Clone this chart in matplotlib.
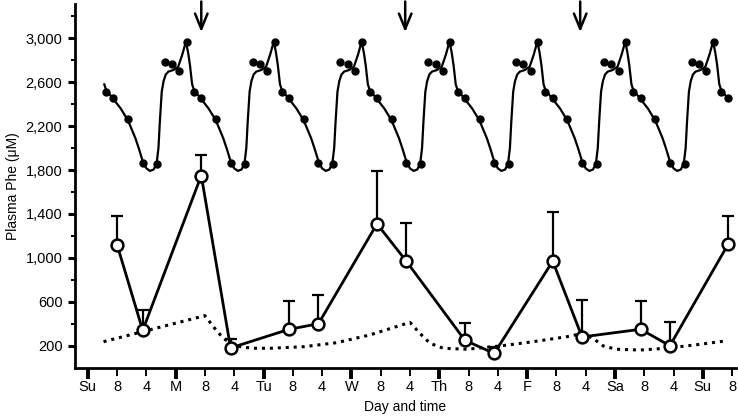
import numpy as np
import matplotlib
matplotlib.use('Agg')
import matplotlib.pyplot as plt
from matplotlib.ticker import FuncFormatter

plt.rcParams['font.family'] = ['Liberation Sans', 'DejaVu Sans']

# x axis: hours from Sunday 00:00
tick_hours = list(range(0, 177, 8))
tick_labels = ['Su', '8', '4', 'M', '8', '4', 'Tu', '8', '4', 'W', '8', '4',
               'Th', '8', '4', 'F', '8', '4', 'Sa', '8', '4', 'Su', '8']

# measured plasma Phe (open circles), upper SD
meas_hours = [8, 15, 31, 39, 55, 63, 79, 87, 103, 111, 127, 135, 151, 159, 175]
meas_phe = [1120, 340, 1750, 180, 350, 400, 1310, 970, 250, 130, 970, 280, 350, 200, 1130]
meas_sd = [260, 190, 190, 80, 260, 260, 485, 350, 160, 60, 450, 340, 260, 220, 255]

# dotted line (lower curve)
dot_hours = [4.3, 32, 34.3, 37, 39.8, 42.5, 45.7, 49.8, 58.9, 68, 77, 88, 90.7, 93.5,
             97.1, 103.5, 112.6, 121.7, 130.8, 135.3, 138, 140.8, 144.4, 150.8, 158.1,
             167.2, 174]
dot_phe = [237, 474, 373, 268, 207, 186, 177, 177, 191, 228, 298, 413, 313, 222,
           177, 168, 198, 237, 282, 313, 268, 198, 168, 161, 177, 213, 243]

# upper daily cycle: filled dots (hour within first day) and fitted line knots
cycle_dot_hours = [5, 7, 11, 15, 19, 21, 23, 25, 27]
cycle_dot_phe = [2508, 2459, 2265, 1862, 1855, 2781, 2766, 2702, 2969]
cycle_line_hours = [4.5, 5, 7, 9, 11, 13, 14, 15, 16, 17, 18, 18.8, 19.3, 19.7, 20.2,
                    20.7, 21.3, 22, 23.4, 24.7, 25.8, 26.8, 27.4, 27.9, 28.3]
cycle_line_phe = [2580, 2530, 2445, 2360, 2250, 2090, 1990, 1880, 1815, 1792, 1805,
                  1860, 2000, 2250, 2514, 2610, 2670, 2696, 2711, 2741, 2850, 2969,
                  2870, 2757, 2640]
n_days = 8
curve_end = 175.3

arrow_hours = [31, 86.7, 134.5]


def build_cycle(days):
    line_x, line_y, pts_x, pts_y = [], [], [], []
    for d in range(days):
        for h, v in zip(cycle_line_hours, cycle_line_phe):
            if h + 24 * d <= curve_end:
                line_x.append(h + 24 * d)
                line_y.append(v)
        for h, v in zip(cycle_dot_hours, cycle_dot_phe):
            if h + 24 * d <= curve_end:
                pts_x.append(h + 24 * d)
                pts_y.append(v)
    return line_x, line_y, pts_x, pts_y


fig = plt.figure(figsize=(7.38, 4.19), dpi=100)
ax = fig.add_axes([0.1016, 0.1224, 0.8954, 0.8681])

# upper repeating curve
lx, ly, px, py = build_cycle(n_days)
ax.plot(lx, ly, c='k', lw=1.6, zorder=2)
ax.plot(px, py, 'o', c='k', ms=5, zorder=3)

# dotted line
ax.plot(dot_hours, dot_phe, c='k', ls=(0, (1, 1.6)), lw=2.2, zorder=2)

# measured values with upward error bars
ax.errorbar(meas_hours, meas_phe, yerr=[np.zeros(len(meas_sd)), meas_sd], fmt='none',
            ecolor='k', elinewidth=1.6, capsize=4.5, capthick=1.6, zorder=3)
ax.plot(meas_hours, meas_phe, '-o', c='k', lw=2, ms=8.5, mfc='white', mec='k', mew=1.8,
        zorder=4)

# arrows
for h in arrow_hours:
    ax.annotate('', xy=(h, 3030), xytext=(h, 3360), annotation_clip=False,
                arrowprops=dict(arrowstyle='->,head_length=1.1,head_width=0.45',
                                color='k', lw=1.8))

ax.set_xlim(-3.5, 177)
ax.set_ylim(0, 3312)

ax.spines['top'].set_visible(False)
ax.spines['right'].set_visible(False)
ax.spines['left'].set_linewidth(2)
ax.spines['bottom'].set_linewidth(2)

ax.set_yticks(range(200, 3001, 400))
ax.set_yticks(range(400, 3201, 400), minor=True)
ax.yaxis.set_major_formatter(FuncFormatter(lambda v, p: f'{int(v):,}'))
ax.tick_params(axis='y', which='major', direction='out', length=5, width=2.2,
               labelsize=10.5, pad=4)
ax.tick_params(axis='y', which='minor', direction='out', length=3, width=1.4)

ax.set_xticks(tick_hours)
ax.set_xticklabels(tick_labels)
ax.tick_params(axis='x', direction='out', length=6, width=1.4, labelsize=10.5, pad=3)
for i, t in enumerate(ax.xaxis.get_major_ticks()):
    if tick_hours[i] % 24 == 0:
        t.tick1line.set_markeredgewidth(2.8)
        t.tick1line.set_markersize(8)

ax.set_xlabel('Day and time', fontsize=10, labelpad=4)
ax.set_ylabel('Plasma Phe (\u03bcM)', fontsize=10, labelpad=4)

fig.savefig('out.png', dpi=100)
